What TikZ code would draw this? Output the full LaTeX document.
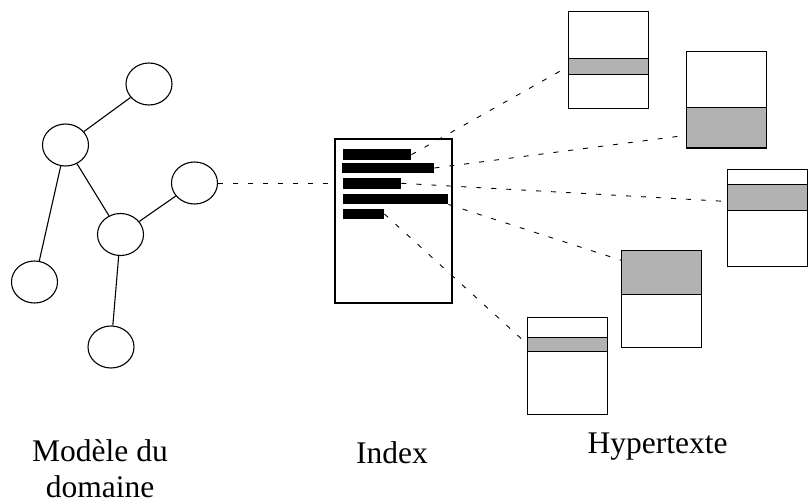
\documentclass[tikz,border=0pt]{standalone}
\usepackage{fontspec}
\setmainfont{Liberation Serif}
\usetikzlibrary{shapes.geometric,calc}

\begin{document}
\begin{tikzpicture}[x=1pt, y=-1pt,
    concept/.style={draw, ellipse, line width=1.1pt, minimum width=46, minimum height=42, inner sep=0},
    page/.style={draw, line width=1.3pt, fill=white, minimum width=80, minimum height=97, inner sep=0},
    band/.style={draw, line width=1.1pt, fill=black!30, minimum width=80, inner sep=0, anchor=north},
    entry/.style={fill=black, minimum height=10.5, inner sep=0, anchor=west},
    link/.style={dash pattern=on 5pt off 10pt, line width=0.9pt},
    caption/.style={font=\fontsize{31.5}{36}\selectfont, anchor=base, align=center}]
  \useasboundingbox (0,0) rectangle (808,503);
  % domain model
  \node [concept] (ntop) at (149,84) {};
  \node [concept] (nhub) at (65.5,145) {};
  \node [concept] (nside) at (194.5,183) {};
  \node [concept] (nmid) at (120.5,234.5) {};
  \node [concept] (nleft) at (34.5,282) {};
  \node [concept] (nbot) at (111,347) {};
  \draw [line width=1.1pt] (nhub) -- (ntop);
  \draw [line width=1.1pt] (nhub) -- (nleft);
  \draw [line width=1.1pt] (nhub) -- (nmid);
  \draw [line width=1.1pt] (nmid) -- (nside);
  \draw [line width=1.1pt] (nmid) -- (nbot);
  % index
  \node [page, minimum width=117, minimum height=164] (idx) at (393.5,221) {};
  \node [entry, minimum width=68] (l1) at (343,154.7) {};
  \node [entry, minimum width=92] (l2) at (342,168) {};
  \node [entry, minimum width=58] (l3) at (343,183.3) {};
  \node [entry, minimum width=105] (l4) at (343,199) {};
  \node [entry, minimum width=41] (l5) at (343,214) {};
  % hypertext pages
  \node [page] (p1) at (608.3,59.7) {};
  \node [band, minimum height=16] (b1) at ($(p1.north)+(0,47.7)$) {};
  \node [page] (p2) at (726.7,100) {};
  \node [band, minimum height=40] (b2) at ($(p2.north)+(0,56.5)$) {};
  \node [page] (p3) at (767.5,218) {};
  \node [band, minimum height=26] (b3) at ($(p3.north)+(0,15)$) {};
  \node [page] (p4) at (661.7,299) {};
  \node [band, minimum height=44] (b4) at (p4.north) {};
  \node [page] (p5) at (567.8,366) {};
  \node [band, minimum height=14] (b5) at ($(p5.north)+(0,19.7)$) {};
  % links
  \draw [link] (nside.east) -- (nside.east -| idx.west);
  \draw [link] (l1.east) -- (b1.west);
  \draw [link] (l2.east) -- ($(b2.north west)!0.68!(b2.south west)$);
  \draw [link] (l3.east) -- ($(b3.north west)!0.65!(b3.south west)$);
  \draw [link] (l4.south east) -- ($(b4.north west)!0.23!(b4.south west)$);
  \draw [link] (l5.east) -- (b5.west);
  % captions
  \node [caption] (tmodel) at (100,497.7) {Modèle du\\domaine};
  \node [caption] (tindex) at (392,463) {Index};
  \node [caption] (thyper) at (657.5,453) {Hypertexte};
\end{tikzpicture}
\end{document}
